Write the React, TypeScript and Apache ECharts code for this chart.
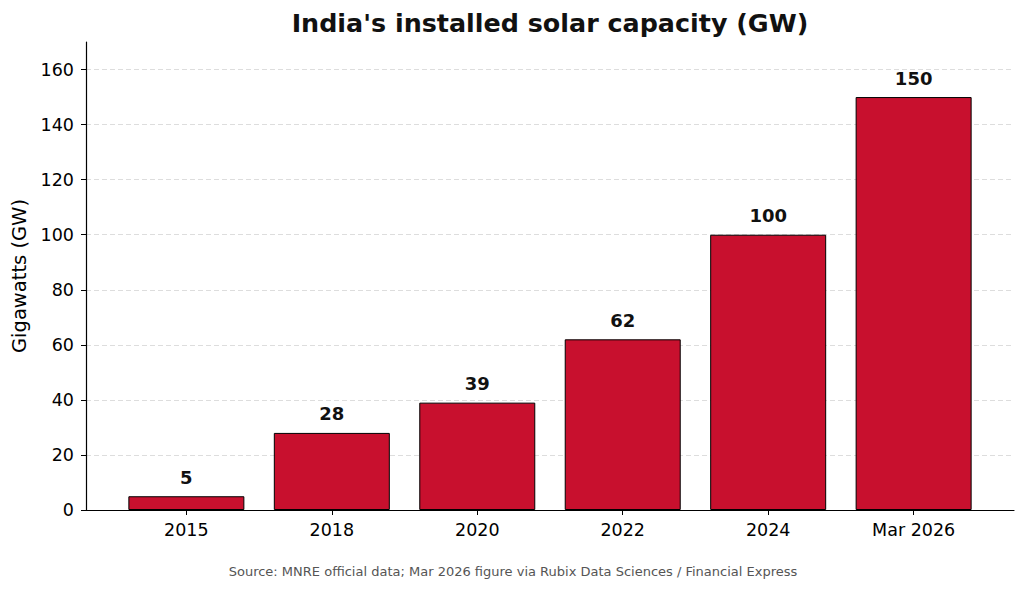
import { useEffect, useRef } from "react";
import * as echarts from "echarts";

const categories = ["2015", "2018", "2020", "2022", "2024", "Mar 2026"];
const capacityGW = [5, 28, 39, 62, 100, 150];
const yTicks = [0, 20, 40, 60, 80, 100, 120, 140, 160];
const xTicks = [0, 1, 2, 3, 4, 5];

const FONT = "DejaVu Sans";

export default function App() {
  const chartRef = useRef(null);

  useEffect(() => {
    document.body.style.margin = "0";
    const chart = echarts.init(chartRef.current, null, { renderer: "svg" });

    const options = {
      animation: false,
      backgroundColor: "#ffffff",
      textStyle: { fontFamily: FONT },
      grid: { left: 86, right: 13, top: 42, bottom: 81, containLabel: false, outerBoundsMode: "none" },
      xAxis: {
        type: "value",
        min: -0.69,
        max: 5.69,
        axisLine: { show: true, onZero: false, lineStyle: { color: "#000000", width: 1.2 } },
        axisTick: { show: true, length: 5, customValues: xTicks, lineStyle: { color: "#000000" } },
        axisLabel: {
          customValues: xTicks,
          margin: 11,
          fontSize: 17.5,
          color: "#000000",
          fontFamily: FONT,
          formatter: (v: number) => categories[Math.round(v)] ?? "",
        },
        splitLine: { show: false },
      },
      yAxis: {
        type: "value",
        min: 0,
        max: 170,
        name: "Gigawatts (GW)",
        nameLocation: "middle",
        nameGap: 55,
        nameRotate: 90,
        nameTextStyle: { fontFamily: FONT, fontSize: 19.5, color: "#000000" },
        axisLine: { show: true, onZero: false, lineStyle: { color: "#000000", width: 1.2 } },
        axisTick: { show: true, length: 5, customValues: yTicks, lineStyle: { color: "#000000" } },
        axisLabel: { customValues: yTicks, margin: 12, fontSize: 17.5, color: "#000000", fontFamily: FONT },
        splitLine: {
          show: true,
          lineStyle: { color: "#dddddd", type: [5, 3], width: 1 },
        },
      },
      series: [
        {
          type: "bar",
          data: capacityGW.map((v, i) => [i, v]),
          barWidth: 116,
          itemStyle: { color: "#C8102E", borderColor: "#000000", borderWidth: 1 },
          label: {
            show: true,
            position: "top",
            distance: 10,
            fontFamily: FONT,
            fontSize: 18,
            fontWeight: "bold",
            color: "#111111",
            formatter: (p: any) => String(p.value[1]),
          },
        },
      ],
      graphic: [
        {
          type: "text",
          x: 550,
          y: 23,
          style: {
            text: "India's installed solar capacity (GW)",
            fontFamily: FONT,
            fontSize: 25.4,
            fontWeight: "bold",
            fill: "#111111",
            align: "center",
            verticalAlign: "middle",
          },
        },
        {
          type: "text",
          x: 513,
          y: 571,
          style: {
            text: "Source: MNRE official data; Mar 2026 figure via Rubix Data Sciences / Financial Express",
            fontFamily: FONT,
            fontSize: 13,
            fill: "#555555",
            align: "center",
            verticalAlign: "middle",
          },
        },
      ],
    };

    chart.setOption(options);
    return () => {
      chart.dispose();
    };
  }, []);

  return <div ref={chartRef} style={{ width: "1027px", height: "591px" }} />;
}
